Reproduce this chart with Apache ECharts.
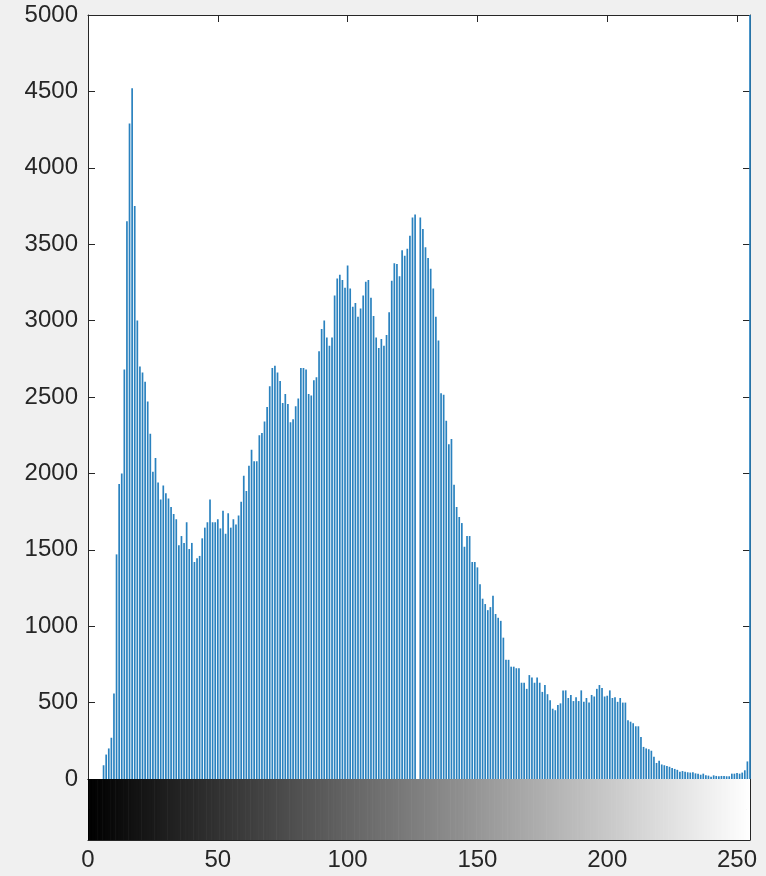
<!DOCTYPE html>
<html>
<head>
<meta charset="utf-8">
<title>Histogram</title>
<script src="https://cdn.jsdelivr.net/npm/echarts@6/dist/echarts.min.js"></script>
<style>
  html, body { margin: 0; padding: 0; background: #f0f0f0; }
  #chart { width: 766px; height: 876px; }
</style>
</head>
<body>
<div id="chart"></div>
<script>
// Pixel counts per gray level, in four blocks of 64 levels.
const countsDark = [
  0, 0, 0, 0, 0, 0, 90, 160, 200, 270, 560, 1470, 1930, 2000, 2680, 3650,
  4290, 4520, 3750, 3000, 2700, 2660, 2600, 2470, 2260, 2010, 2100, 1940, 1830, 1920, 1870, 1835,
  1780, 1735, 1700, 1530, 1590, 1545, 1680, 1505, 1545, 1420, 1445, 1460, 1575, 1645, 1680, 1830,
  1680, 1680, 1700, 1640, 1755, 1605, 1740, 1645, 1700, 1665, 1725, 1815, 1985, 1885, 2050, 2155
];
const countsMidDark = [
  2080, 2080, 2250, 2265, 2340, 2435, 2570, 2690, 2705, 2660, 2605, 2460, 2520, 2455, 2335, 2355,
  2440, 2490, 2690, 2690, 2680, 2520, 2510, 2610, 2630, 2800, 2945, 3000, 2890, 2835, 2890, 3165,
  3275, 3300, 3265, 3215, 3360, 3210, 3090, 3115, 3025, 3080, 3165, 3255, 3265, 3150, 3030, 2890,
  2820, 2880, 2835, 2905, 3055, 3260, 3375, 3370, 3290, 3460, 3425, 3470, 3555, 3675, 3695, 0
];
const countsMidLight = [
  3675, 3600, 3480, 3410, 3340, 3210, 3025, 2870, 2525, 2515, 2345, 2190, 2225, 1925, 1780, 1715,
  1675, 1520, 1590, 1590, 1420, 1420, 1385, 1275, 1180, 1145, 1105, 1125, 1200, 1080, 1055, 1035,
  925, 780, 780, 735, 735, 725, 725, 630, 630, 590, 680, 665, 630, 665, 630, 570,
  615, 555, 515, 460, 450, 485, 495, 580, 580, 530, 550, 510, 535, 510, 580, 505
];
const countsLight = [
  530, 500, 550, 540, 590, 615, 595, 540, 545, 580, 530, 535, 505, 530, 500, 500,
  385, 375, 365, 345, 345, 275, 210, 200, 195, 185, 145, 105, 120, 95, 90, 85,
  80, 72, 66, 60, 48, 52, 48, 44, 42, 44, 37, 35, 28, 35, 24, 22,
  15, 24, 20, 18, 20, 20, 18, 18, 35, 35, 39, 35, 42, 57, 115, 5600
];

// Axis ticks
const xTicks = [0, 50, 100, 150, 200, 250];
const yTicks = [0, 500, 1000, 1500, 2000, 2500, 3000, 3500, 4000, 4500, 5000];

const counts = countsDark.concat(countsMidDark, countsMidLight, countsLight);
const grayLevels = counts.map((_, i) => i);
const histData = grayLevels.map(i => [i, counts[i]]);

const INK = '#262626';
const FONT = 'Liberation Sans, Helvetica, Arial, sans-serif';

function boxAxis(extra) {
  return Object.assign({
    axisLine: { show: true, onZero: false, lineStyle: { color: INK, width: 1 } },
    axisTick: { show: true, inside: true, length: 7, lineStyle: { color: INK, width: 1 } },
    axisLabel: { show: false },
    splitLine: { show: false }
  }, extra);
}

const chart = echarts.init(document.getElementById('chart'), null, { renderer: 'canvas' });

chart.setOption({
  backgroundColor: '#f0f0f0',
  animation: false,
  grid: [
    { left: 88, right: 16, top: 15, height: 764, backgroundColor: '#ffffff', show: true, borderWidth: 0 },
    { left: 88, right: 16, top: 779, height: 61, show: false }
  ],
  xAxis: [
    boxAxis({ type: 'value', gridIndex: 0, position: 'bottom', min: 0, max: 255, interval: 50,
      axisTick: { show: false } }),
    boxAxis({ type: 'value', gridIndex: 0, position: 'top', min: 0, max: 255, interval: 50 }),
    boxAxis({ type: 'value', gridIndex: 1, position: 'bottom', min: 0, max: 255, interval: 50,
      axisLabel: {
        show: true, color: INK, fontFamily: FONT, fontSize: 24, margin: 8,
        formatter: v => (xTicks.indexOf(v) >= 0 ? String(v) : '')
      } }),
    boxAxis({ type: 'value', gridIndex: 1, position: 'top', min: 0, max: 255, interval: 50 })
  ],
  yAxis: [
    boxAxis({ type: 'value', gridIndex: 0, position: 'left', min: 0, max: 5000, interval: 500,
      axisLabel: {
        show: true, color: INK, fontFamily: FONT, fontSize: 24, margin: 10,
        formatter: v => (yTicks.indexOf(v) >= 0 ? String(v) : '')
      } }),
    boxAxis({ type: 'value', gridIndex: 0, position: 'right', min: 0, max: 5000, interval: 500 }),
    boxAxis({ type: 'value', gridIndex: 1, position: 'left', min: 0, max: 1, interval: 0.5 }),
    boxAxis({ type: 'value', gridIndex: 1, position: 'right', min: 0, max: 1, interval: 0.5 })
  ],
  series: [
    {
      name: 'counts',
      type: 'bar',
      xAxisIndex: 0,
      yAxisIndex: 0,
      data: histData,
      barWidth: 1.7,
      clip: true,
      itemStyle: { color: '#2a82bf' },
      z: 3
    },
    {
      name: 'gray scale',
      type: 'custom',
      xAxisIndex: 2,
      yAxisIndex: 2,
      data: grayLevels.map(g => [g]),
      clip: true,
      renderItem: function (params, api) {
        const g = api.value(0);
        const p0 = api.coord([g - 0.5, 1]);
        const p1 = api.coord([g + 0.5, 0]);
        const rect = echarts.graphic.clipRectByRect(
          { x: p0[0], y: p0[1], width: p1[0] - p0[0] + 0.6, height: p1[1] - p0[1] },
          { x: params.coordSys.x, y: params.coordSys.y, width: params.coordSys.width, height: params.coordSys.height }
        );
        if (!rect) return null;
        return { type: 'rect', shape: rect, style: { fill: 'rgb(' + g + ',' + g + ',' + g + ')' } };
      },
      z: 1
    }
  ]
});
</script>
</body>
</html>
